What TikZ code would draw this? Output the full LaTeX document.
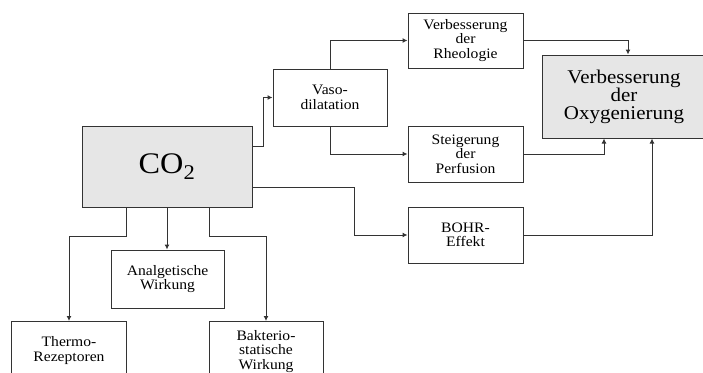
\documentclass[tikz,border=0pt]{standalone}
\usepackage{fontspec}
\setmainfont[FakeStretch=1.08]{Liberation Serif}
\usetikzlibrary{arrows.meta, positioning}

\definecolor{boxgray}{HTML}{E6E6E6}
\definecolor{linegray}{HTML}{333333}

\begin{document}
\begin{tikzpicture}[
    x=1bp, y=-1bp,
    >={Latex[length=5bp, width=5bp]},
    box/.style={draw=linegray, line width=1bp, fill=white, align=center,
                inner sep=0pt, minimum width=115bp, minimum height=56bp,
                font=\fontsize{14.5}{14.5}\selectfont},
    bigbox/.style={box, fill=boxgray},
    arr/.style={->, draw=linegray, line width=1bp}
  ]
  \clip (0,0) rectangle (703,372);
  \fill[white] (0,0) rectangle (703,372);

  % Boxes
  \node[bigbox, minimum width=170bp, minimum height=81bp,
        font=\fontsize{30}{30}\selectfont] (co2) at (167,166.5) {CO\textsubscript{2}};
  \node[box, minimum width=114bp, minimum height=57bp] (vaso) at (330,97.5) {Vaso-\\dilatation};
  \node[box, minimum height=55bp] (rheo) at (465.5,40.5) {Verbesserung\\der\\Rheologie};
  \node[box] (perf) at (465.5,154) {Steigerung\\der\\Perfusion};
  \node[box] (bohr) at (465.5,235) {BOHR-\\Effekt};
  \node[bigbox, minimum width=164bp, minimum height=83bp,
        font=\fontsize{19.5}{18}\selectfont] (oxy) at (624,96.5) {Verbesserung\\der\\Oxygenierung};
  \node[box, minimum width=113bp, minimum height=58bp] (analg) at (167.5,279) {Analgetische\\Wirkung};
  \node[box, minimum width=114bp, minimum height=58bp, anchor=north] (thermo) at (69,321) {Thermo-\\Rezeptoren};
  \node[box, minimum width=114bp, minimum height=60bp, anchor=north] (bakt) at (266,321) {Bakterio-\\statische\\Wirkung};

  % Connectors
  \draw[arr] ([yshift=20.5bp]co2.east) -- ++(11,0) |- (vaso.west);
  \draw[arr] (vaso.north) |- (rheo.west);
  \draw[arr] (vaso.south) |- (perf.west);
  \draw[arr] (rheo.east) -| ([xshift=4bp]oxy.north);
  \draw[arr] (perf.east) -| ([xshift=-20bp]oxy.south);
  \draw[arr] ([yshift=-20.5bp]co2.east) -- ++(102,0) |- (bohr.west);
  \draw[arr] (bohr.east) -| ([xshift=28bp]oxy.south);
  \draw[arr] ([xshift=-41bp]co2.south) -- ++(0,29) -| (thermo.north);
  \draw[arr] (co2.south) -- (co2.south |- analg.north);
  \draw[arr] ([xshift=42bp]co2.south) -- ++(0,29) -| (bakt.north);
\end{tikzpicture}
\end{document}
